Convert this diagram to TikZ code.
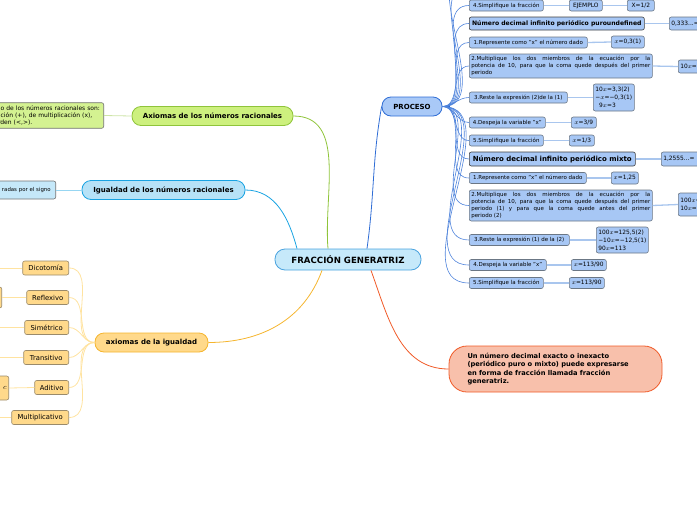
\documentclass[tikz,border=0pt]{standalone}
\usepackage{fontspec}
\setmainfont{DejaVu Sans}
\usetikzlibrary{positioning,calc}
\definecolor{rootfill}{HTML}{C6E9FA}
\definecolor{rootline}{HTML}{4AA3DF}
\definecolor{procfill}{HTML}{A9C9F7}
\definecolor{procline}{HTML}{2F6DD5}
\definecolor{axfill}{HTML}{CDF07E}
\definecolor{axline}{HTML}{8FC43A}
\definecolor{igfill}{HTML}{B6E2F7}
\definecolor{igline}{HTML}{19A3E2}
\definecolor{aifill}{HTML}{FFD98B}
\definecolor{ailine}{HTML}{F5B52E}
\definecolor{redfill}{HTML}{F8C0AB}
\definecolor{redline}{HTML}{F05A28}
\definecolor{stepfill}{HTML}{A7C7F5}
\definecolor{stepline}{HTML}{6B7785}
\definecolor{leafline}{HTML}{9A8A6A}
\definecolor{leafedge}{HTML}{FFE3A0}
\definecolor{steplink}{HTML}{A9C6EE}
\tikzset{
  root/.style={draw=rootline, fill=rootfill, thick, rounded corners=10pt, minimum width=146pt, minimum height=21pt, inner sep=2pt, font=\fontsize{8.6}{10}\selectfont\bfseries},
  topic/.style={thick, rounded corners=9pt, minimum height=19pt, inner sep=2pt, font=\fontsize{7}{8}\selectfont\bfseries},
  stepbox/.style={draw=stepline, fill=stepfill, semithick, rounded corners=2pt, minimum height=11pt, inner sep=2pt, anchor=west, font=\fontsize{5.5}{6.9}\selectfont},
  headbox/.style={stepbox, draw=black!75, minimum height=13pt, font=\fontsize{6.1}{7.5}\selectfont\bfseries},
  valbox/.style={stepbox, align=left, font=\fontsize{5.9}{7.8}\selectfont},
  leaf/.style={draw=leafline, fill=aifill, semithick, rounded corners=2pt, minimum height=14pt, inner sep=2pt, anchor=east, font=\fontsize{6.8}{8}\selectfont},
  side/.style={draw=black!55, semithick, rounded corners=2pt, anchor=east, inner sep=3pt, font=\fontsize{6}{7}\selectfont},
  fan/.style={procline!85, line width=0.6pt},
  link/.style={steplink, line width=1.3pt},
  leg/.style={leafedge, line width=0.8pt},
}
\begin{document}
\begin{tikzpicture}[x=1pt,y=1pt]
  \useasboundingbox (0,0) rectangle (697,-520);
  % main topics
  \node[root] (root) at (348,-259.5) {FRACCIÓN GENERATRIZ};
  \node[topic, draw=procline, fill=procfill, minimum width=60pt] (proc) at (412,-106.5) {PROCESO};
  \node[topic, draw=axline, fill=axfill, minimum width=161pt] (axr) at (212.5,-116) {Axiomas de los números racionales};
  \node[topic, draw=igline, fill=igfill, minimum width=163pt] (igr) at (163.5,-190) {Igualdad de los números racionales};
  \node[topic, draw=ailine, fill=aifill, minimum width=113pt] (aig) at (151.5,-342.5) {axiomas de la igualdad};
  \node[topic, draw=redline, fill=redfill, minimum width=213pt, minimum height=46pt, rounded corners=18pt, text width=176pt, align=left, font=\fontsize{6.7}{8.5}\selectfont\bfseries] (gen) at (555.5,-369) {Un número decimal exacto o inexacto\\(periódico puro o mixto) puede expresarse\\en forma de fracción llamada fracción\\generatriz.};
  \draw[procline, thick] ([xshift=19pt]root.north) to[out=82,in=-100] (proc.west);
  \draw[axline, thick] ([xshift=-20pt]root.north) to[out=95,in=0] (axr.east);
  \draw[igline, thick] ([xshift=-51pt]root.north) to[out=105,in=0] (igr.east);
  \draw[ailine, thick] ([xshift=-26pt]root.south) to[out=-110,in=0] (aig.east);
  \draw[redline, thick] ([xshift=23pt]root.south) to[out=-70,in=180] (gen.west);

  % left side
  \node[side, fill=axfill!85, text width=112pt, align=left, minimum height=25pt] (axd) at (104,-115.5) {\leftskip=12pt o de los números racionales son:\\ción (+), de multiplicación (x),\\e orden (<,>).};
  \node[side, fill=igfill!80, text width=60pt, align=right, minimum height=18pt, inner xsep=5pt, font=\fontsize{5.4}{6.5}\selectfont] (igd) at (56,-190) {radas por el signo};
  \draw[axline!45, line width=0.8pt] (axr.west) -- (axd.east);
  \draw[igline!45, line width=0.8pt] (igr.west) -- (igd.east);

  \node[leaf, minimum width=46pt] (dic) at (69,-268) {Dicotomía};
  \node[leaf, minimum width=42pt] (ref) at (69,-297.5) {Reflexivo};
  \node[leaf, minimum width=44pt] (sim) at (69,-327.5) {Simétrico};
  \node[leaf, minimum width=45pt] (tra) at (69,-357.5) {Transitivo};
  \node[leaf, minimum width=34pt] (adi) at (69,-387.5) {Aditivo};
  \node[leaf, minimum width=57pt] (mul) at (69,-417.5) {Multiplicativo};
  \node[leaf, minimum width=30pt, minimum height=21pt] (refd) at (2,-297.5) {};
  \node[leaf, text width=30pt, align=right, minimum height=24pt] (adid) at (9,-388) {$c$};
  \coordinate (dicL) at (-5,-268);
  \coordinate (simL) at (-5,-327.5);
  \coordinate (traL) at (-5,-357.5);
  \coordinate (mulL) at (-5,-417.5);
  \draw[leg] (aig.west) to[out=180,in=0] (dic.east);
  \draw[leg] (aig.west) to[out=180,in=0] (ref.east);
  \draw[leg] (aig.west) to[out=180,in=0] (sim.east);
  \draw[leg] (aig.west) to[out=180,in=0] (tra.east);
  \draw[leg] (aig.west) to[out=180,in=0] (adi.east);
  \draw[leg] (aig.west) to[out=180,in=0] (mul.east);
  \draw[leg] (dic.west) -- (dicL);
  \draw[leg] (ref.west) -- (refd.east);
  \draw[leg] (sim.west) -- (simL);
  \draw[leg] (tra.west) -- (traL);
  \draw[leg] (adi.west) -- (adid.east);
  \draw[leg] (mul.west) -- (mulL);

  % proceso steps
  \coordinate (hidA) at (469,14);
  \coordinate (hidB) at (469,34);
  \node[stepbox, minimum width=74pt] (s0) at (469,-5.5) {4.Simplifique la fracción};
  \node[headbox, minimum width=175pt] (h1) at (469,-23.5) {Número decimal infinito periódico puroundefined};
  \node[stepbox, minimum width=118pt] (s1) at (469,-42.5) {1.Represente como "x" el número dado};
  \node[stepbox, text width=179pt, align=justify, minimum height=24pt] (s2) at (469,-66) {2.Multiplique los dos miembros de la ecuación por la\linebreak potencia de 10, para que la coma quede después del primer periodo};
  \node[stepbox, minimum width=98pt] (s3) at (469,-97.5) {3.Reste la expresión (2)de la (1)};
  \node[stepbox, minimum width=76pt] (s4) at (469,-122.5) {4.Despeja la variable "x"};
  \node[stepbox, minimum width=74pt] (s5) at (469,-140.5) {5.Simplifique la fracción};
  \node[headbox, minimum width=166pt, minimum height=14pt, font=\fontsize{7}{8}\selectfont\bfseries] (h2) at (469,-159) {Número decimal infinito periódico mixto};
  \node[stepbox, minimum width=117pt] (s6) at (469,-178) {1.Represente como "x" el número dado};
  \node[stepbox, text width=179pt, align=justify, minimum height=31pt] (s7) at (469,-205.5) {2.Multiplique los dos miembros de la ecuación por la\linebreak potencia de 10, para que la coma quede después del primer\linebreak periodo (1) y para que la coma quede antes del primer\linebreak periodo (2)};
  \node[stepbox, minimum width=100pt] (s8) at (469,-240) {3.Reste la expresión (1) de la (2)};
  \node[stepbox, minimum width=77pt] (s9) at (469,-265) {4.Despeja la variable "x"};
  \node[stepbox, minimum width=74pt] (s10) at (469,-283) {5.Simplifique la fracción};
  \draw[procline, line width=1.4pt] (proc.east) -- ++(8,0);
  \draw[fan] (proc.east) to[out=0,in=180] (hidB);
  \draw[fan] (proc.east) to[out=0,in=180] (hidA);
  \draw[fan] (proc.east) to[out=0,in=180] (s0.west);
  \draw[fan] (proc.east) to[out=0,in=180] (h1.west);
  \draw[fan] (proc.east) to[out=0,in=180] (s1.west);
  \draw[fan] (proc.east) to[out=0,in=180] (s2.west);
  \draw[fan] (proc.east) to[out=0,in=180] (s3.west);
  \draw[fan] (proc.east) to[out=0,in=180] (s4.west);
  \draw[fan] (proc.east) to[out=0,in=180] (s5.west);
  \draw[fan] (proc.east) to[out=0,in=180] (h2.west);
  \draw[fan] (proc.east) to[out=0,in=180] (s6.west);
  \draw[fan] (proc.east) to[out=0,in=180] (s7.west);
  \draw[fan] (proc.east) to[out=0,in=180] (s8.west);
  \draw[fan] (proc.east) to[out=0,in=180] (s9.west);
  \draw[fan] (proc.east) to[out=0,in=180] (s10.west);

  % values
  \node[valbox, minimum width=33pt] (v0a) at (569,-5.5) {EJEMPLO};
  \node[valbox, minimum width=27pt] (v0b) at (627,-5.5) {X=1/2};
  \node[valbox, text width=44pt, minimum height=13pt] (v1) at (669,-23.5) {0,333...=};
  \node[valbox, minimum width=33pt, minimum height=12pt] (v2) at (611,-42) {$x$=0,3(1)};
  \node[valbox, text width=36pt, minimum height=13pt] (v3) at (678,-66.5) {10$x$=};
  \node[valbox, minimum width=41pt, minimum height=27pt] (v4) at (593,-97.5) {10$x$=3,3(2)\\−$x$=−0,3(1)\\\ \ 9$x$=3};
  \node[valbox, minimum width=25pt] (v5) at (571,-122.5) {$x$=3/9};
  \node[valbox, minimum width=25pt] (v6) at (569,-140.5) {$x$=1/3};
  \node[valbox, text width=44pt, minimum height=14pt] (v7) at (661,-159) {1,2555...=};
  \node[valbox, minimum width=27pt, minimum height=12pt] (v8) at (611,-178) {$x$=1,25};
  \node[valbox, text width=36pt, minimum height=23pt] (v9) at (678,-204.5) {100$x$=\\10$x$=};
  \node[valbox, minimum width=51pt, minimum height=26pt] (v10) at (596,-240) {100$x$=125,5(2)\\−10$x$=−12,5(1)\\90$x$=113};
  \node[valbox, minimum width=35pt] (v11) at (571,-265) {$x$=113/90};
  \node[valbox, minimum width=35pt] (v12) at (569,-283) {$x$=113/90};
  \draw[link] (s0.east) -- (v0a.west);
  \draw[link] (v0a.east) -- (v0b.west);
  \draw[link] (h1.east) -- (v1.west);
  \draw[link] (s1.east) -- (v2.west);
  \draw[link] (s2.east) -- (v3.west);
  \draw[link] (s3.east) -- (v4.west);
  \draw[link] (s4.east) -- (v5.west);
  \draw[link] (s5.east) -- (v6.west);
  \draw[link] (h2.east) -- (v7.west);
  \draw[link] (s6.east) -- (v8.west);
  \draw[link] (s7.east) -- (v9.west);
  \draw[link] (s8.east) -- (v10.west);
  \draw[link] (s9.east) -- (v11.west);
  \draw[link] (s10.east) -- (v12.west);
\end{tikzpicture}
\end{document}
